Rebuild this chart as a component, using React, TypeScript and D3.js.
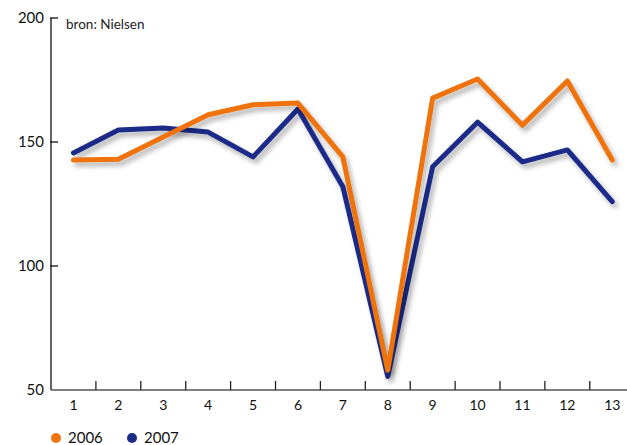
import * as d3 from 'd3';
import { useEffect, useRef } from 'react';

const weeks = ['1', '2', '3', '4', '5', '6', '7', '8', '9', '10', '11', '12', '13'];
const values2006 = [142.7, 143, 152, 161, 165, 165.7, 144, 58, 167.7, 175.4, 156.8, 174.6, 142.7];
const values2007 = [145.6, 154.8, 155.6, 154, 144, 163.3, 132, 55.5, 140, 158, 142, 146.8, 126];
const yTicks = [50, 100, 150, 200];
const seriesNames = ['2006', '2007'];
const seriesColors = ['#ef730f', '#1b2b88'];

export default function App() {
  const svgRef = useRef<SVGSVGElement>(null);

  useEffect(() => {
    document.body.style.margin = '0';
    if (!svgRef.current) return;

    const svg = d3.select(svgRef.current);
    svg.selectAll('*').remove();

    const width = 627;
    const font = 'Lato, "Open Sans", sans-serif';

    // Shadow filter
    const defs = svg.append('defs');
    const filter = defs
      .append('filter')
      .attr('id', 'shadow')
      .attr('x', '-20%')
      .attr('y', '-20%')
      .attr('width', '140%')
      .attr('height', '140%');
    filter
      .append('feDropShadow')
      .attr('dx', 3)
      .attr('dy', 4)
      .attr('stdDeviation', 2.5)
      .attr('flood-color', '#000')
      .attr('flood-opacity', 0.3);

    // Scales
    const x = d3.scaleBand().domain(weeks).range([51, 51 + 44.9 * 13]);
    const y = d3.scaleLinear().domain([50, 200]).range([390, 18]);

    // Y axis
    const yAxis = svg.append('g').attr('transform', 'translate(51,0)');
    yAxis
      .append('line')
      .attr('y1', y(200))
      .attr('y2', y(50))
      .attr('stroke', '#111')
      .attr('stroke-width', 1.3);
    yAxis
      .selectAll('line.tick')
      .data(yTicks.filter((d) => d !== 50))
      .enter()
      .append('line')
      .attr('class', 'tick')
      .attr('x1', -1)
      .attr('x2', 7)
      .attr('y1', (d) => y(d))
      .attr('y2', (d) => y(d))
      .attr('stroke', '#111')
      .attr('stroke-width', 1.3);
    yAxis
      .selectAll('text')
      .data(yTicks)
      .enter()
      .append('text')
      .attr('x', -7)
      .attr('y', (d) => y(d) + 5)
      .attr('text-anchor', 'end')
      .attr('font-family', font)
      .attr('font-size', 15)
      .attr('fill', '#111')
      .text((d) => d);

    // X axis
    const xAxis = svg.append('g');
    xAxis
      .append('line')
      .attr('x1', 51)
      .attr('x2', width)
      .attr('y1', y(50))
      .attr('y2', y(50))
      .attr('stroke', '#555')
      .attr('stroke-width', 1.5);
    xAxis
      .selectAll('line.tick')
      .data(weeks.slice(1))
      .enter()
      .append('line')
      .attr('class', 'tick')
      .attr('x1', (d) => x(d)!)
      .attr('x2', (d) => x(d)!)
      .attr('y1', y(50))
      .attr('y2', y(50) - 9)
      .attr('stroke', '#222')
      .attr('stroke-width', 1.3);
    xAxis
      .selectAll('text')
      .data(weeks)
      .enter()
      .append('text')
      .attr('x', (d) => x(d)! + x.bandwidth() / 2)
      .attr('y', y(50) + 20)
      .attr('text-anchor', 'middle')
      .attr('font-family', font)
      .attr('font-size', 14)
      .attr('fill', '#111')
      .text((d) => d);

    // Source label
    svg
      .append('text')
      .attr('x', 66)
      .attr('y', 29)
      .attr('font-family', font)
      .attr('font-size', 13.5)
      .attr('fill', '#222')
      .text('bron: Nielsen');

    // Lines (2007 first so 2006 sits on top)
    const line = d3
      .line<number>()
      .x((_, i) => x(weeks[i])! + x.bandwidth() / 2)
      .y((d) => y(d));

    [1, 0].forEach((i) => {
      const vals = i === 0 ? values2006 : values2007;
      svg
        .append('path')
        .datum(vals)
        .attr('fill', 'none')
        .attr('stroke', seriesColors[i])
        .attr('stroke-width', 5)
        .attr('stroke-linejoin', 'round')
        .attr('stroke-linecap', 'round')
        .attr('filter', 'url(#shadow)')
        .attr('d', line);
    });

    // Legend
    const legend = svg.append('g');
    const legendX = [56, 132];
    seriesNames.forEach((name, i) => {
      legend
        .append('circle')
        .attr('cx', legendX[i])
        .attr('cy', 438)
        .attr('r', 5)
        .attr('fill', seriesColors[i]);
      legend
        .append('text')
        .attr('x', legendX[i] + 12)
        .attr('y', 443)
        .attr('font-family', font)
        .attr('font-size', 15)
        .attr('fill', '#111')
        .text(name);
    });
  }, []);

  return <svg ref={svgRef} width={627} height={445} style={{ display: 'block' }} />;
}
